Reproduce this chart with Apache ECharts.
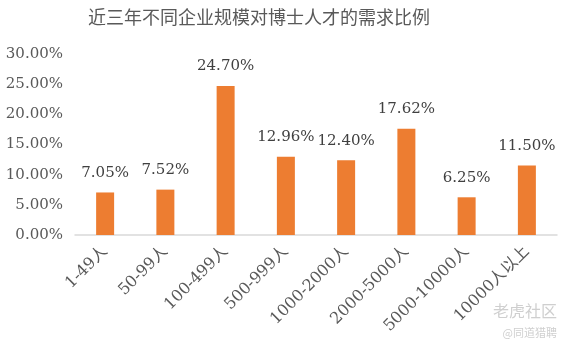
<!DOCTYPE html>
<html><head><meta charset="utf-8">
<script src="https://cdn.jsdelivr.net/npm/echarts@6/dist/echarts.min.js"></script>
<style>html,body{margin:0;padding:0;background:#fff}#c{width:567px;height:346px}</style>
</head><body><div id="c"></div>
<script>
var categories = ['1-49人','50-99人','100-499人','500-999人','1000-2000人','2000-5000人','5000-10000人','10000人以上'];
var values = [7.05, 7.52, 24.70, 12.96, 12.40, 17.62, 6.25, 11.50];
var yTicks = [0, 5, 10, 15, 20, 25, 30];
var serif = '"DejaVu Serif","Liberation Serif","Noto Sans CJK SC",serif';
var chart = echarts.init(document.getElementById('c'));
chart.setOption({
  animation: false,
  title: {
    text: '近三年不同企业规模对博士人才的需求比例',
    left: 83, top: 3,
    textStyle: {fontFamily: '"Noto Sans CJK SC",sans-serif', fontSize: 18, fontWeight: 'normal', color: '#595959'}
  },
  grid: {left: 75, right: 10, top: 54, bottom: 111, containLabel: false},
  xAxis: {
    type: 'category', data: categories,
    axisLine: {lineStyle: {color: '#D9D9D9', width: 1.5}},
    axisTick: {show: false},
    axisLabel: {rotate: 45, interval: 0, margin: 14, fontFamily: serif, fontSize: 16, color: '#595959'}
  },
  yAxis: {
    type: 'value', min: yTicks[0], max: yTicks[yTicks.length-1], interval: 5,
    splitLine: {show: false}, axisLine: {show: false}, axisTick: {show: false},
    axisLabel: {margin: 12, fontFamily: serif, fontSize: 15, color: '#595959',
      formatter: function(v){ return v.toFixed(2) + '%'; }}
  },
  series: [{
    type: 'bar', data: values, barWidth: 18,
    itemStyle: {color: '#ED7D31'},
    label: {show: true, position: 'top', distance: 12, fontFamily: serif, fontSize: 15, color: '#404040',
      formatter: function(p){ return p.value.toFixed(2) + '%'; }}
  }],
  graphic: [
    {type: 'text', right: 10, top: 303, style: {text: '老虎社区', fontFamily: '"Noto Sans CJK SC",sans-serif', fontSize: 16, fill: '#cfcfcf'}},
    {type: 'text', right: 10, top: 327, style: {text: '@同道猎聘', fontFamily: '"Noto Sans CJK SC",sans-serif', fontSize: 11, fill: '#cfcfcf'}}
  ]
});
</script></body></html>
